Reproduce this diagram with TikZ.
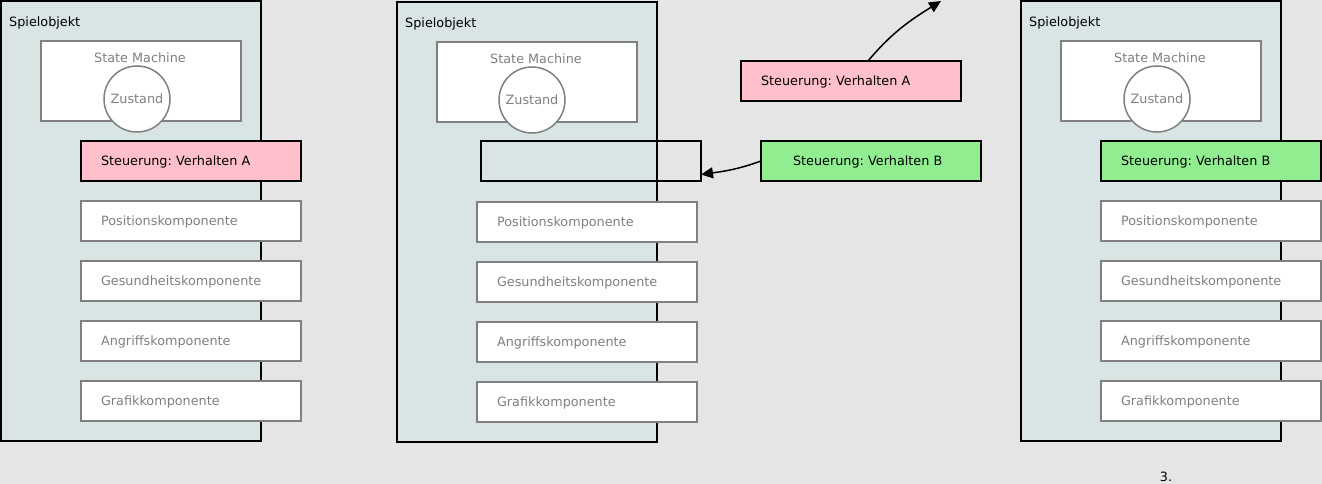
\documentclass[tikz,border=0pt]{standalone}
\usepackage{fontspec}
\setmainfont{DejaVu Sans}
\usetikzlibrary{arrows.meta,calc}
\definecolor{bgc}{HTML}{E5E5E5}
\definecolor{panelc}{HTML}{D8E5E4}
\definecolor{pinkc}{HTML}{FFC0CB}
\definecolor{greenc}{HTML}{90EE90}
\definecolor{grayc}{HTML}{808080}
\frenchspacing
\begin{document}
\begin{tikzpicture}[x=1pt,y=-1pt,font=\fontsize{12.8}{15}\selectfont\frenchspacing,
  panelbox/.style={draw=black,line width=1.5pt,fill=panelc,minimum width=260pt,minimum height=440pt,inner sep=0pt,outer sep=0pt,anchor=north west},
  paneltitle/.style={anchor=west,inner sep=0pt,text=black},
  smbox/.style={draw=grayc,line width=1.5pt,fill=white,minimum width=200pt,minimum height=80pt,inner sep=0pt,outer sep=0pt,anchor=north west},
  smtitle/.style={anchor=center,inner sep=0pt,text=grayc},
  statecirc/.style={circle,draw=grayc,line width=1.5pt,fill=white,minimum size=66pt,inner sep=0pt,text=grayc},
  comp/.style={draw=grayc,line width=1.5pt,fill=white,text=grayc,anchor=north west,minimum height=40pt,text width=180pt,inner xsep=20pt,inner ysep=0pt,outer sep=0pt,align=left,text height=11.5pt,text depth=1.8pt},
  ctrlA/.style={comp,draw=black,fill=pinkc,text=black},
  ctrlB/.style={comp,draw=black,fill=greenc,text=black},
  emptyslot/.style={comp,draw=black,fill=none},
  arr/.style={-{Triangle[length=12pt,width=11pt]},line width=1.5pt,draw=black}
]
\useasboundingbox[fill=bgc] (0,0) rectangle (1322,484);

% ---------- Panel 1 ----------
\node[panelbox] (p1) at (1,1) {};
\node[paneltitle] (p1t) at (9,22.5) {Spielobjekt};
\node[smbox] (sm1) at (41,41) {};
\node[smtitle] (sm1t) at (140,57.5) {State Machine};
\node[statecirc] (z1) at (137,99) {Zustand};
\node[ctrlA] (c1) at (81,141) {Steuerung: Verhalten A};
\node[comp] (pos1) at (81,201) {Positionskomponente};
\node[comp] (ges1) at (81,261) {Gesundheitskomponente};
\node[comp] (ang1) at (81,321) {Angriffskomponente};
\node[comp] (gra1) at (81,381) {Grafikkomponente};

% ---------- Panel 2 ----------
\node[panelbox] (p2) at (397,2) {};
\node[paneltitle] (p2t) at (405,23.5) {Spielobjekt};
\node[smbox] (sm2) at (437,42) {};
\node[smtitle] (sm2t) at (536,58.5) {State Machine};
\node[statecirc] (z2) at (532,100) {Zustand};
\node[emptyslot] (e2) at (481,141) {};
\node[comp] (pos2) at (477,202) {Positionskomponente};
\node[comp] (ges2) at (477,262) {Gesundheitskomponente};
\node[comp] (ang2) at (477,322) {Angriffskomponente};
\node[comp] (gra2) at (477,382) {Grafikkomponente};

\node[ctrlA] (oldA) at (741,61) {Steuerung: Verhalten A};
\node[ctrlB,text width=156pt,inner xsep=32pt] (newB) at (761,141) {Steuerung: Verhalten B};
\coordinate (away) at (941,1);
\draw[arr] ($(oldA.north west)+(127,0)$) to[out=50,in=-148] (away);
\draw[arr] (newB.west) to[out=200,in=8] (e2.-7);

% ---------- Panel 3 ----------
\node[panelbox] (p3) at (1021,1) {};
\node[paneltitle] (p3t) at (1029,22.5) {Spielobjekt};
\node[smbox] (sm3) at (1061,41) {};
\node[smtitle] (sm3t) at (1160,57.5) {State Machine};
\node[statecirc] (z3) at (1157,99) {Zustand};
\node[ctrlB] (c3) at (1101,141) {Steuerung: Verhalten B};
\node[comp] (pos3) at (1101,201) {Positionskomponente};
\node[comp] (ges3) at (1101,261) {Gesundheitskomponente};
\node[comp] (ang3) at (1101,321) {Angriffskomponente};
\node[comp] (gra3) at (1101,381) {Grafikkomponente};

\node[inner sep=0pt,text=black] (num) at (1166,477) {3.};
\end{tikzpicture}
\end{document}
